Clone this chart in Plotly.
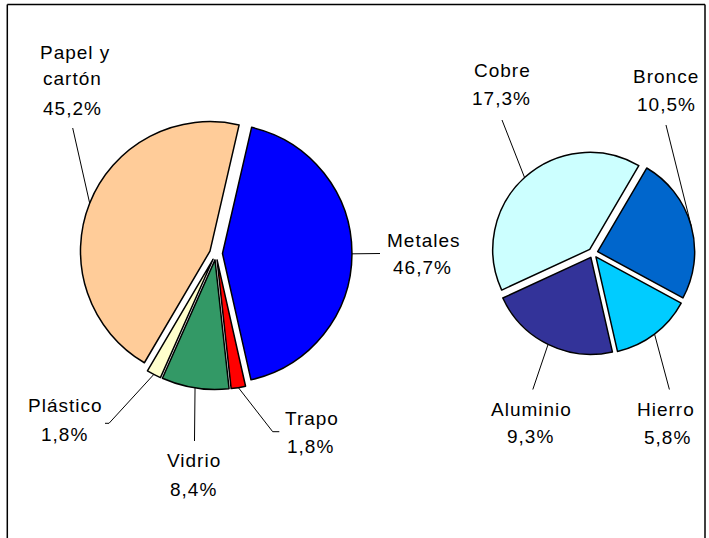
import math
import plotly.graph_objects as go

W, H = 709, 538

# ---------------- data ----------------
res_labels = ["Metales", "Trapo", "Vidrio", "Plástico", "Papel y cartón"]
res_values = [42.9, 1.8, 8.4, 1.8, 45.2]          # slice sizes
res_pct_text = ["46,7%", "1,8%", "8,4%", "1,8%", "45,2%"]
res_label_lines = [["Metales"], ["Trapo"], ["Vidrio"], ["Plástico"], ["Papel y", "cartón"]]

met_labels = ["Cobre", "Bronce", "Hierro", "Aluminio"]
met_values = [17.3, 10.5, 5.8, 9.3]
met_pct_text = ["17,3%", "10,5%", "5,8%", "9,3%"]
met_label_lines = [["Cobre"], ["Bronce"], ["Hierro"], ["Aluminio"]]

# ---------------- styles / layout ----------------
res_colors = ["#0000FF", "#FF0000", "#339966", "#FFFFCC", "#FFCC99"]
met_colors = ["#CCFFFF", "#0066CC", "#00CCFF", "#333399"]

LEFT = dict(cx=216, cy=253.5, r=129.5, pull=0.05, rotation=13)
RIGHT = dict(cx=593, cy=253, r=97, pull=0.05, rotation=245.2)

# label text positions (center x, baseline y of each line) in pixels
res_label_pos = [
    [(423.7, 246.7), (422.0, 274.3)],
    [(311.2, 425.0), (309.5, 452.7)],
    [(193.8, 466.7), (193.4, 495.7)],
    [(65.0, 412.0), (64.0, 441.5)],
    [(74.0, 59.0), (71.7, 85.5), (72.0, 115.0)],
]
met_label_pos = [
    [(502.2, 77.3), (501.3, 105.0)],
    [(665.5, 82.7), (665.8, 111.0)],
    [(665.5, 416.0), (667.0, 444.3)],
    [(530.8, 416.0), (530.0, 443.3)],
]
# leader line label-side points (pixels)
res_leader_end = [
    [(380.0, 253.5)],
    [(272.7, 431.7), (279.3, 431.7)],
    [(194.5, 441.0)],
    [(109.0, 423.3), (105.0, 423.3)],
    [(72.7, 128.0)],
]
met_leader_end = [
    [(502.0, 120.0)],
    [(666.0, 125.0)],
    [(669.4, 389.5)],
    [(532.8, 389.5)],
]

FONT = "Liberation Sans, Arial, sans-serif"
FSIZE = 19
SPACING = 1.0


def px(x, y):
    return x / W, 1 - y / H


def domain(g):
    R = g["r"] * (1 + g["pull"])
    return dict(x=[(g["cx"] - R) / W, (g["cx"] + R) / W],
                y=[1 - (g["cy"] + R) / H, 1 - (g["cy"] - R) / H])


def mid_edges(values, g):
    tot = sum(values)
    a = g["rotation"]
    d = g["r"] * (1 + g["pull"])
    pts = []
    for v in values:
        span = 360.0 * v / tot
        m = math.radians(a + span / 2)
        pts.append((g["cx"] + d * math.sin(m), g["cy"] - d * math.cos(m)))
        a += span
    return pts


fig = go.Figure()

for labels, values, colors, g in [
    (res_labels, res_values, res_colors, LEFT),
    (met_labels, met_values, met_colors, RIGHT),
]:
    fig.add_trace(go.Pie(
        labels=labels, values=values, sort=False, direction="clockwise",
        rotation=g["rotation"], pull=[g["pull"]] * len(values),
        marker=dict(colors=colors, line=dict(color="black", width=1.5)),
        textinfo="none", hoverinfo="label+percent", showlegend=False,
        domain=domain(g),
    ))

shapes = []
annotations = []


def add_labels(label_lines, pct_text, positions, leader_ends, values, g):
    edges = mid_edges(values, g)
    for i in range(len(values)):
        lines = label_lines[i] + [pct_text[i]]
        for t, (x, yb) in zip(lines, positions[i]):
            xp, yp = px(x + SPACING / 2, yb - 0.35 * FSIZE)
            annotations.append(dict(
                x=xp, y=yp, xref="paper", yref="paper",
                text='<span style="letter-spacing:%.1fpx">%s</span>' % (SPACING, t),
                showarrow=False, xanchor="center", yanchor="middle",
                font=dict(family=FONT, size=FSIZE, color="black"),
            ))
        pts = [edges[i]] + leader_ends[i]
        path = ""
        for k, (x, y) in enumerate(pts):
            xp, yp = px(x, y)
            path += ("M" if k == 0 else " L") + " %.5f %.5f" % (xp, yp)
        shapes.append(dict(type="path", xref="paper", yref="paper", path=path,
                           line=dict(color="black", width=1)))


add_labels(res_label_lines, res_pct_text, res_label_pos, res_leader_end, res_values, LEFT)
add_labels(met_label_lines, met_pct_text, met_label_pos, met_leader_end, met_values, RIGHT)

# chart frame (left, top, right; open at the bottom)
fx0, fy0 = px(7.3, 4.4)
fx1, _ = px(705.0, 4.4)
for x0, y0, x1, y1 in [(fx0, -0.02, fx0, fy0), (fx0, fy0, fx1, fy0), (fx1, fy0, fx1, -0.02)]:
    shapes.append(dict(type="line", xref="paper", yref="paper", x0=x0, y0=y0, x1=x1, y1=y1,
                       line=dict(color="black", width=1.5)))

fig.update_layout(
    width=W, height=H, autosize=False,
    margin=dict(l=0, r=0, t=0, b=0),
    paper_bgcolor="white", plot_bgcolor="white",
    shapes=shapes, annotations=annotations,
)

fig.write_html("out.html", config={"displayModeBar": False},
               post_script="document.body.style.margin='0';")
